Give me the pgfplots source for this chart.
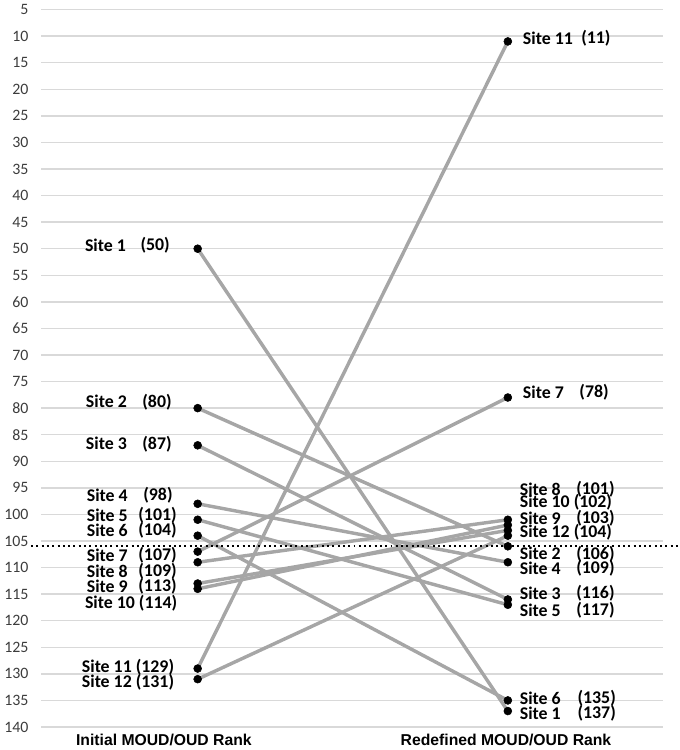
\documentclass[border=0pt]{standalone}
\usepackage{fontspec}
\setmainfont{Carlito}
\newfontfamily\arialfont{Liberation Sans}
\usepackage{pgfplots}
\pgfplotsset{compat=1.18}
\definecolor{linegray}{RGB}{166,166,166}
\definecolor{gridgray}{RGB}{217,217,217}
\definecolor{ticktext}{RGB}{60,60,60}
\newcommand{\labfont}{\bfseries\fontsize{13.5}{15}\selectfont}

\begin{document}
\begin{tikzpicture}
\begin{axis}[
  scale only axis, width=471pt, height=543pt,
  xmin=0.4952, xmax=2.5016, ymin=5, ymax=140, y dir=reverse,
  axis line style={draw=none}, tick style={draw=none},
  xtick=\empty, ytick={5,10,...,140},
  ymajorgrids, grid style={gridgray, line width=1.1pt},
  yticklabel style={font=\fontsize{12}{14}\selectfont, text=ticktext, xshift=-6pt},
  /pgf/number format/assume math mode=true,
  clip=false,
]
% lines: initial rank -> redefined rank
\addplot[linegray, line width=2.6pt] coordinates {(1,50) (2,137)};
\addplot[linegray, line width=2.6pt] coordinates {(1,80) (2,106)};
\addplot[linegray, line width=2.6pt] coordinates {(1,87) (2,116)};
\addplot[linegray, line width=2.6pt] coordinates {(1,98) (2,109)};
\addplot[linegray, line width=2.6pt] coordinates {(1,101) (2,117)};
\addplot[linegray, line width=2.6pt] coordinates {(1,104) (2,135)};
\addplot[linegray, line width=2.6pt] coordinates {(1,107) (2,78)};
\addplot[linegray, line width=2.6pt] coordinates {(1,109) (2,101)};
\addplot[linegray, line width=2.6pt] coordinates {(1,113) (2,103)};
\addplot[linegray, line width=2.6pt] coordinates {(1,114) (2,102)};
\addplot[linegray, line width=2.6pt] coordinates {(1,129) (2,11)};
\addplot[linegray, line width=2.6pt] coordinates {(1,131) (2,104)};
% threshold
\addplot[black, line width=1.5pt, dash pattern=on 1.5pt off 2.5pt] coordinates {(0.463,106) (2.55,106)};
% dots
\addplot[only marks, mark=*, mark size=3pt, black] coordinates {
  (1,50) (1,80) (1,87) (1,98) (1,101) (1,104) (1,107) (1,109) (1,113) (1,114) (1,129) (1,131)
  (2,137) (2,106) (2,116) (2,109) (2,117) (2,135) (2,78) (2,101) (2,103) (2,102) (2,11) (2,104)};

% left labels
\begin{scope}[every node/.style={anchor=west, inner sep=0pt, font=\labfont}]
\node at (axis cs:0.636,49.4) {Site 1};   \node at (axis cs:0.815,49.4) {(50)};
\node at (axis cs:0.639,78.8) {Site 2};   \node at (axis cs:0.821,78.8) {(80)};
\node at (axis cs:0.639,86.7) {Site 3};   \node at (axis cs:0.821,86.7) {(87)};
\node at (axis cs:0.642,96.4) {Site 4};   \node at (axis cs:0.824,96.4) {(98)};
\node at (axis cs:0.642,100.1) {Site 5};  \node at (axis cs:0.808,100.1) {(101)};
\node at (axis cs:0.642,102.9) {Site 6};  \node at (axis cs:0.808,102.9) {(104)};
\node at (axis cs:0.642,107.6) {Site 7};  \node at (axis cs:0.808,107.6) {(107)};
\node at (axis cs:0.642,110.7) {Site 8};  \node at (axis cs:0.808,110.7) {(109)};
\node at (axis cs:0.642,113.5) {Site 9};  \node at (axis cs:0.808,113.5) {(113)};
\node at (axis cs:0.636,116.7) {Site 10 (114)};
\node at (axis cs:0.626,128.8) {Site 11 (129)};
\node at (axis cs:0.626,131.5) {Site 12 (131)};
% right labels
\node at (axis cs:2.048,10.4) {Site 11};  \node at (axis cs:2.236,10.4) {(11)};
\node at (axis cs:2.048,77) {Site 7};     \node at (axis cs:2.230,77) {(78)};
\node at (axis cs:2.038,95.2) {Site 8};   \node at (axis cs:2.220,95.2) {(101)};
\node at (axis cs:2.038,97.7) {Site 10 (102)};
\node at (axis cs:2.038,100.7) {Site 9};  \node at (axis cs:2.220,100.7) {(103)};
\node at (axis cs:2.038,103.3) {Site 12 (104)};
\node at (axis cs:2.038,107.4) {Site 2};  \node at (axis cs:2.220,107.4) {(106)};
\node at (axis cs:2.038,110.2) {Site 4};  \node at (axis cs:2.220,110.2) {(109)};
\node at (axis cs:2.038,114.8) {Site 3};  \node at (axis cs:2.220,114.8) {(116)};
\node at (axis cs:2.038,118) {Site 5};    \node at (axis cs:2.220,118) {(117)};
\node at (axis cs:2.038,134.6) {Site 6};  \node at (axis cs:2.224,134.6) {(135)};
\node at (axis cs:2.038,137.4) {Site 1};  \node at (axis cs:2.224,137.4) {(137)};
\end{scope}

% category labels
\node[font=\arialfont\bfseries\fontsize{11.9}{13}\selectfont] at (axis cs:0.891,142.4) {Initial MOUD/OUD Rank};
\node[font=\arialfont\bfseries\fontsize{11.9}{13}\selectfont] at (axis cs:1.994,142.4) {Redefined MOUD/OUD Rank};
\end{axis}
\end{tikzpicture}
\end{document}
